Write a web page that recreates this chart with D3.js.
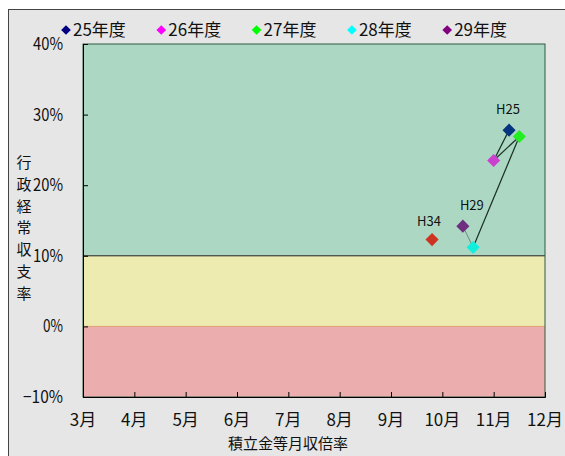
<!DOCTYPE html>
<html lang="ja">
<head>
<meta charset="UTF-8">
<title>行政経常収支率</title>
<script src="https://d3js.org/d3.v7.min.js"></script>
<style>
  body { margin: 0; background: #fff; }
  svg text { font-family: "Noto Sans CJK JP", "DejaVu Sans", sans-serif; fill: #111; }
</style>
</head>
<body>
<div id="chart"></div>
<script>
// 年度ごとのデータ
const years = ["25年度", "26年度", "27年度", "28年度", "29年度"];
const legendColors = ["#000080", "#ff00ff", "#00ff00", "#00ffff", "#800080"];
const pointColors = ["#06357f", "#cc40d0", "#22ee22", "#11eedd", "#6e2f80"];
const monthRatio = [11.3, 11.0, 11.5, 10.6, 10.4];   // 積立金等月収倍率
const expenseRate = [27.8, 23.5, 26.9, 11.2, 14.2];  // 行政経常収支率 (%)

// 目標 (H34)
const targetLabel = "H34";
const targetMonth = 9.8;
const targetRate = 12.3;
const targetColor = "#cc3322";

// 注記
const noteLabels = ["H25", "H29"];
const noteIndex = [0, 4];

// 軸
const xTicks = [3, 4, 5, 6, 7, 8, 9, 10, 11, 12];
const yTicks = [-10, 0, 10, 20, 30, 40];

// 背景の帯
const bandRanges = [[10, 40], [0, 10], [-10, 0]];
const bandColors = ["#acd8c3", "#eeebb1", "#ebadad"];

const width = 565, height = 456;
const plot = { left: 83, right: 545, top: 44, bottom: 397 };

const svg = d3.select("#chart").append("svg")
  .attr("width", width).attr("height", height);

// 外枠
svg.append("rect")
  .attr("x", 8.5).attr("y", 9.5)
  .attr("width", 570).attr("height", 460)
  .attr("fill", "#e6e6e6").attr("stroke", "#444").attr("stroke-width", 1);

const x = d3.scaleLinear().domain([3, 12]).range([plot.left, plot.right]);
const y = d3.scaleLinear().domain([-10, 40]).range([plot.bottom, plot.top]);

// 帯
bandRanges.forEach((r, i) => {
  svg.append("rect")
    .attr("x", x(3)).attr("y", y(r[1]))
    .attr("width", x(12) - x(3)).attr("height", y(r[0]) - y(r[1]))
    .attr("fill", bandColors[i]);
});

// 境界線
svg.append("line")
  .attr("x1", x(3)).attr("x2", x(12)).attr("y1", y(10)).attr("y2", y(10))
  .attr("stroke", "#222").attr("stroke-width", 1);
svg.append("line")
  .attr("x1", x(3)).attr("x2", x(12)).attr("y1", y(0)).attr("y2", y(0))
  .attr("stroke", "#e0a070").attr("stroke-width", 1);

// プロット枠
svg.append("rect")
  .attr("x", x(3)).attr("y", y(40))
  .attr("width", x(12) - x(3)).attr("height", y(-10) - y(40))
  .attr("fill", "none").attr("stroke", "#2e5a40").attr("stroke-width", 1);

// Y軸
const yAxis = svg.append("g")
  .attr("transform", `translate(${x(3)},0)`)
  .call(d3.axisRight(y).tickValues(yTicks).tickSize(5).tickFormat(""));
yAxis.select(".domain").attr("stroke", "#000");
yAxis.selectAll(".tick line").attr("stroke", "#000");

yTicks.forEach(v => {
  const label = (v < 0 ? "\u2212" + Math.abs(v) : v) + "%";
  svg.append("text")
    .attr("x", 63).attr("y", y(v) + 6)
    .attr("text-anchor", "end")
    .attr("font-size", 17)
    .attr("textLength", label.length * 10)
    .attr("lengthAdjust", "spacingAndGlyphs")
    .text(label);
});

// X軸
const xAxis = svg.append("g")
  .attr("transform", `translate(0,${y(-10)})`)
  .call(d3.axisTop(x).tickValues(xTicks).tickSize(5).tickFormat(""));
xAxis.select(".domain").attr("stroke", "#000");
xAxis.selectAll(".tick line").attr("stroke", "#000");

xTicks.forEach(v => {
  svg.append("text")
    .attr("x", x(v)).attr("y", 426)
    .attr("text-anchor", "middle")
    .attr("font-size", 17)
    .text(v + "月");
});

// 軸タイトル
svg.append("text")
  .attr("x", 288).attr("y", 449)
  .attr("text-anchor", "middle")
  .attr("font-size", 15)
  .text("積立金等月収倍率");

const yTitle = "行政経常収支率";
Array.from(yTitle).forEach((ch, i) => {
  svg.append("text")
    .attr("x", 24).attr("y", 168 + i * 21.8)
    .attr("text-anchor", "middle")
    .attr("font-size", 15)
    .text(ch);
});

// 凡例
const diamond = d3.symbol().type(d3.symbolDiamond2);
years.forEach((yr, i) => {
  const lx = 66 + i * 95.3;
  svg.append("path")
    .attr("d", diamond.size(60)())
    .attr("transform", `translate(${lx},30)`)
    .attr("fill", legendColors[i]);
  svg.append("text")
    .attr("x", lx + 7).attr("y", 36)
    .attr("font-size", 17)
    .text(yr);
});

// 推移の線
const pts = monthRatio.map((m, i) => [x(m), y(expenseRate[i])]);
for (let i = 0; i < 3; i++) {
  svg.append("line")
    .attr("x1", pts[i][0]).attr("y1", pts[i][1])
    .attr("x2", pts[i + 1][0]).attr("y2", pts[i + 1][1])
    .attr("stroke", "#1a2f24").attr("stroke-width", 1.2);
}
svg.append("line")
  .attr("x1", pts[3][0]).attr("y1", pts[3][1])
  .attr("x2", pts[4][0]).attr("y2", pts[4][1])
  .attr("stroke", "#6a8a80").attr("stroke-width", 1);

// 点
pts.forEach((p, i) => {
  svg.append("path")
    .attr("d", diamond.size(110)())
    .attr("transform", `translate(${p[0]},${p[1]})`)
    .attr("fill", pointColors[i]);
});
svg.append("path")
  .attr("d", diamond.size(110)())
  .attr("transform", `translate(${x(targetMonth)},${y(targetRate)})`)
  .attr("fill", targetColor);

// ラベル
noteIndex.forEach((idx, k) => {
  svg.append("text")
    .attr("x", pts[idx][0] + (k === 0 ? -1 : 9)).attr("y", pts[idx][1] - 16)
    .attr("text-anchor", "middle")
    .attr("font-size", 13)
    .text(noteLabels[k]);
});
svg.append("text")
  .attr("x", x(targetMonth) - 3).attr("y", y(targetRate) - 14)
  .attr("text-anchor", "middle")
  .attr("font-size", 13)
  .text(targetLabel);
</script>
</body>
</html>
